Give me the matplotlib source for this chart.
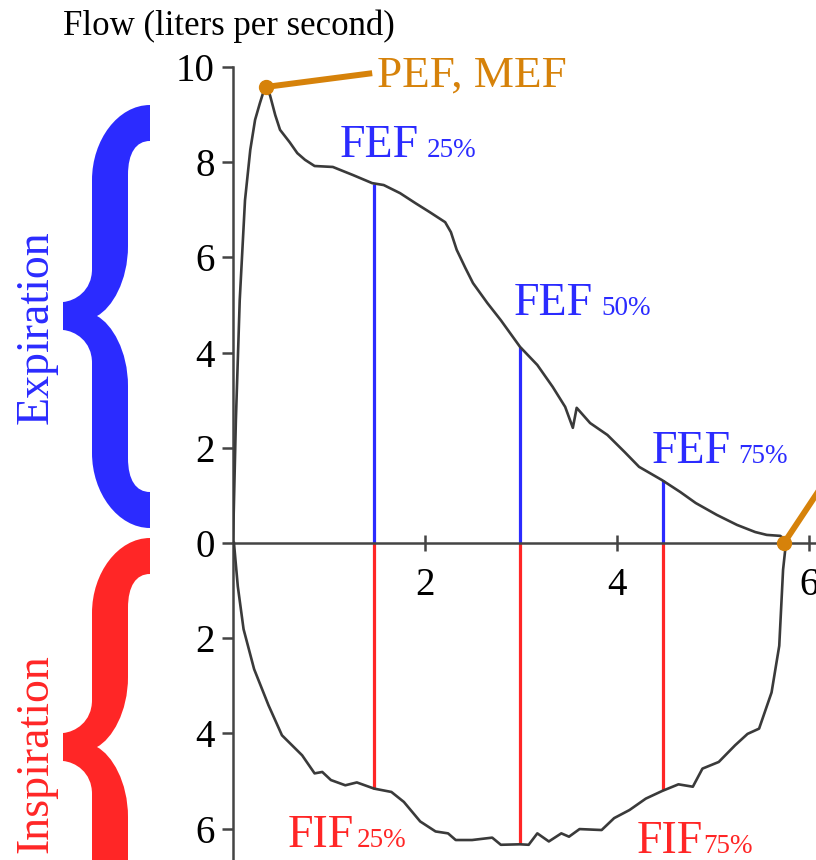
import numpy as np
import matplotlib.pyplot as plt
from matplotlib.path import Path
from matplotlib.patches import PathPatch

plt.rcParams['font.family'] = ['Liberation Serif', 'DejaVu Serif']

# courbe débit-volume (expiration, au-dessus de l'axe)
exp_vol = [0.0, 0.03, 0.07, 0.125, 0.18, 0.23, 0.28, 0.33, 0.385, 0.44, 0.49, 0.59,
           0.67, 0.75, 0.85, 1.04, 1.25, 1.45, 1.57, 1.74, 1.90, 2.05, 2.21, 2.27,
           2.33, 2.42, 2.50, 2.65, 2.79, 2.99, 3.17, 3.33, 3.46, 3.54, 3.58, 3.72,
           3.90, 4.08, 4.23, 4.47, 4.66, 4.82, 5.04, 5.25, 5.44, 5.56, 5.70, 5.76]
exp_flow = [0.0, 2.58, 5.10, 7.2, 8.26, 8.89, 9.24, 9.56, 9.41, 8.99, 8.68, 8.42,
            8.19, 8.05, 7.92, 7.90, 7.73, 7.56, 7.52, 7.35, 7.14, 6.95, 6.74, 6.53,
            6.16, 5.78, 5.46, 5.04, 4.68, 4.12, 3.74, 3.28, 2.86, 2.42, 2.84, 2.52,
            2.27, 1.91, 1.60, 1.32, 1.07, 0.84, 0.59, 0.38, 0.23, 0.17, 0.15, 0.06]

# inspiration (sous l'axe)
insp_vol = [0.01, 0.05, 0.11, 0.22, 0.37, 0.51, 0.72, 0.85, 0.93, 1.02, 1.17, 1.29,
            1.47, 1.65, 1.78, 1.95, 2.11, 2.24, 2.32, 2.49, 2.70, 2.79, 2.99, 3.08,
            3.17, 3.29, 3.42, 3.50, 3.61, 3.84, 3.97, 4.13, 4.30, 4.47, 4.64, 4.79,
            4.89, 5.06, 5.23, 5.36, 5.48, 5.61, 5.69, 5.73, 5.76]
insp_flow = [0.0, -0.91, -1.81, -2.65, -3.41, -4.04, -4.46, -4.84, -4.81, -4.98, -5.09, -5.03,
             -5.16, -5.23, -5.44, -5.85, -6.06, -6.10, -6.24, -6.24, -6.19, -6.34, -6.33, -6.34,
             -6.10, -6.27, -6.10, -6.17, -6.01, -6.03, -5.78, -5.61, -5.37, -5.21, -5.07, -5.12,
             -4.74, -4.60, -4.25, -4.01, -3.90, -3.14, -2.16, -0.56, 0.0]

fef_vol = [1.47, 2.99, 4.48]
fef_flow = [7.54, 4.12, 1.32]
fif_vol = [1.47, 2.99, 4.48]
fif_flow = [-5.17, -6.33, -5.19]
pct = ['25%', '50%', '75%']

pef_vol, pef_flow = 0.34, 9.58
end_vol = 5.74

blue = '#2b2bff'
red = '#ff2626'
orange = '#d6820a'
grey = '#3a3a3a'

W, H = 816, 860
fig = plt.figure(figsize=(W / 100, H / 100), dpi=100)

# axes placé pour que x=0 tombe sur 233 px, 96 px par litre, 47.6 px par l/s
x0_px, sx = 233, 96.0
y0_px, sy = 543, 47.6
top_px = 40
ax = fig.add_axes([x0_px / W, 0, 1 - x0_px / W, 1 - top_px / H])
ax.set_xlim(0, (W - x0_px) / sx)
ax.set_ylim(-(H - y0_px) / sy, (y0_px - top_px) / sy)
ax.patch.set_alpha(0)

for s in ['top', 'right']:
    ax.spines[s].set_visible(False)
ax.spines['left'].set_bounds(-8, 10)
ax.spines['bottom'].set_position(('data', 0))
ax.spines['bottom'].set_bounds(0, 6.3)
for s in ['left', 'bottom']:
    ax.spines[s].set_color('#444444')
    ax.spines[s].set_linewidth(1.8)

yt = [10, 8, 6, 4, 2, 0, -2, -4, -6]
ax.set_yticks(yt)
ax.set_yticklabels([str(abs(v)) for v in yt])
ax.set_xticks([2, 4, 6])
ax.set_xticklabels(['2', '4', '6'])
ax.tick_params(axis='y', direction='out', length=8, width=1.8, color='#444444',
               labelsize=28, pad=5)
ax.tick_params(axis='x', direction='inout', length=11, width=1.8, color='#444444',
               labelsize=28, pad=12)

# lignes verticales FEF / FIF
ax.vlines(fef_vol, 0, fef_flow, color=blue, lw=2.3, zorder=2)
ax.vlines(fif_vol, fif_flow, 0, color=red, lw=2.3, zorder=2)

# boucle
ax.plot(exp_vol + insp_vol[::-1], exp_flow + insp_flow[::-1], color=grey, lw=1.9,
        zorder=3, solid_joinstyle='round')

# PEF et fin d'expiration
ax.plot([pef_vol, 1.45], [pef_flow, 9.87], color=orange, lw=4.3, zorder=4,
        solid_capstyle='butt')
ax.plot([end_vol, 6.3], [0, 1.7], color=orange, lw=4.3, zorder=4)
ax.plot([pef_vol, end_vol], [pef_flow, 0], 'o', color=orange, ms=10, zorder=5)
ax.text(1.50, 9.58, 'PEF, MEF', color=orange, fontsize=32.5, va='baseline')

# étiquettes
fef_pos = [(1.115, 8.11, 2.02), (2.92, 4.79, 3.84), (4.36, 1.68, 5.26)]
for (xt, yb, xs), p in zip(fef_pos, pct):
    ax.text(xt, yb, 'FEF', color=blue, fontsize=33, va='baseline')
    ax.text(xs, yb, p, color=blue, fontsize=19.5, va='baseline')
fif_pos = [(0.57, -6.39, 1.29, pct[0]), (4.21, -6.51, 4.90, pct[2])]
for xt, yb, xs, p in fif_pos:
    ax.text(xt, yb, 'FIF', color=red, fontsize=33, va='baseline')
    ax.text(xs, yb, p, color=red, fontsize=19.5, va='baseline')

fig.text(63 / W, 1 - 35 / H, 'Flow (liters per second)', fontsize=25, va='baseline')

# accolades, en pixels
ov = fig.add_axes([0, 0, 1, 1], zorder=-1)
ov.set_xlim(0, W)
ov.set_ylim(H, 0)
ov.axis('off')


def brace(yt_, yb_, ym, color, L=63, V=92, Vi=128, P=97, R=150, cap=36):
    verts = [
        (R, yt_), (R - 32, yt_), (V, yt_ + 35), (V, yt_ + 75),
        (V, ym - 47),
        (V, ym - 25), (L + 12, ym - 15), (L, ym - 14),
        (L, ym + 14),
        (L + 12, ym + 15), (V, ym + 25), (V, ym + 47),
        (V, yb_ - 75),
        (V, yb_ - 35), (R - 32, yb_), (R, yb_),
        (R, yb_ - cap),
        (R - 14, yb_ - cap), (Vi, yb_ - 48), (Vi, yb_ - 70),
        (Vi, ym + 70),
        (Vi, ym + 35), (P + 15, ym + 8), (P, ym),
        (P + 15, ym - 8), (Vi, ym - 35), (Vi, ym - 70),
        (Vi, yt_ + 70),
        (Vi, yt_ + 48), (R - 14, yt_ + cap), (R, yt_ + cap),
        (R, yt_),
    ]
    C4, LT = Path.CURVE4, Path.LINETO
    codes = [Path.MOVETO, C4, C4, C4, LT, C4, C4, C4, LT, C4, C4, C4, LT, C4, C4, C4,
             LT, C4, C4, C4, LT, C4, C4, C4, C4, C4, C4, LT, C4, C4, C4, Path.CLOSEPOLY]
    ov.add_patch(PathPatch(Path(verts, codes), facecolor=color, edgecolor='none'))


brace(105, 528, 316, blue)
brace(538, 961, 747, red)
ov.text(36, 327, 'Expiration', color=blue, fontsize=33, rotation=90,
        ha='center', va='center')
ov.text(36, 754, 'Inspiration', color=red, fontsize=33, rotation=90,
        ha='center', va='center')

fig.savefig('out.png', dpi=100)
